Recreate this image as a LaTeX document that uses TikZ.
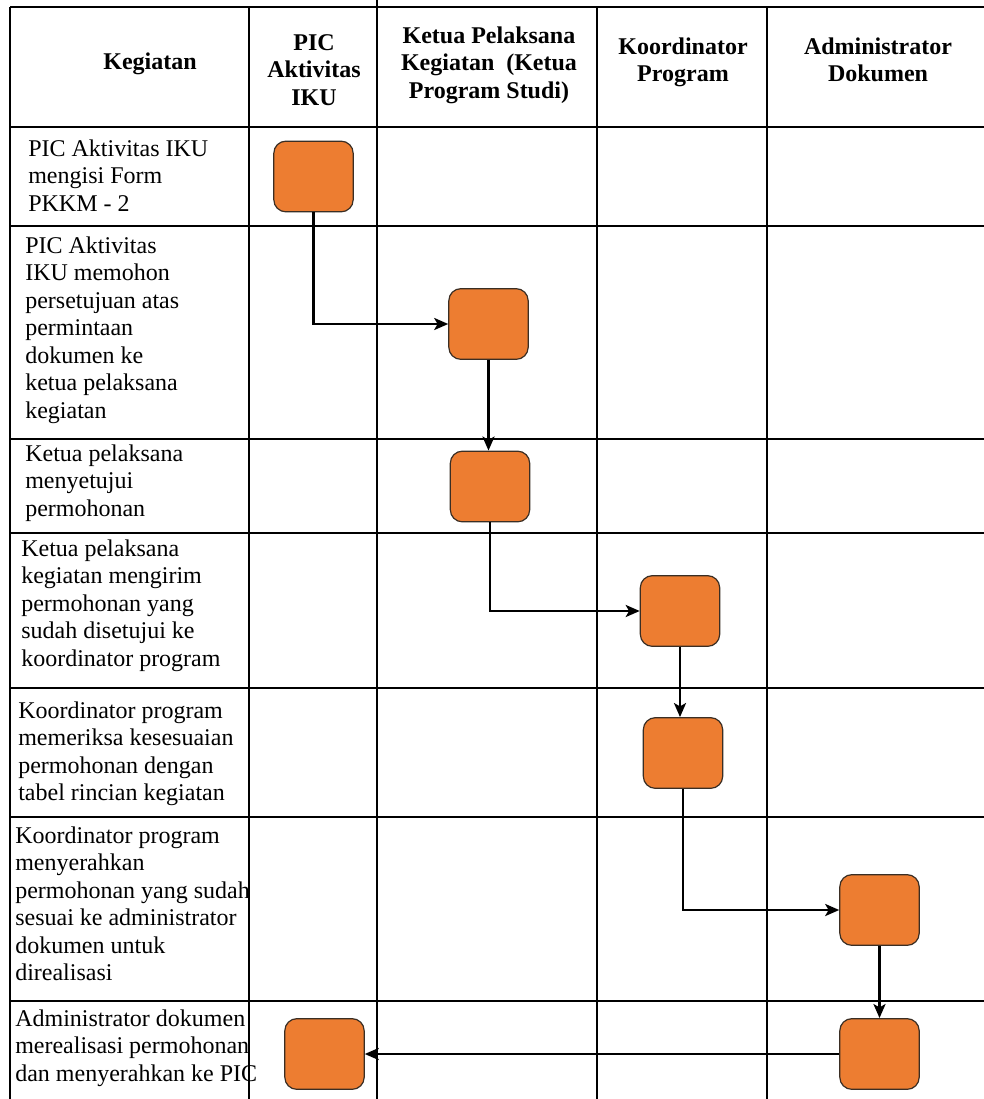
\documentclass[tikz,border=0pt]{standalone}
\usepackage{fontspec}
\setmainfont{Liberation Serif}
\usetikzlibrary{arrows.meta}
\definecolor{boxorange}{HTML}{ED7D31}
\definecolor{boxedge}{HTML}{3A2E24}
\tikzset{
  gridline/.style={line width=1.4pt, black},
  procbox/.style={draw=boxedge, fill=boxorange, rounded corners=9pt, line width=0.9pt,
    minimum width=59.5pt, minimum height=53pt, inner sep=0pt},
  flow/.style={line width=1.9pt, -{Stealth[length=10.5pt,width=9pt,inset=2.5pt]}},
  bodytext/.style={anchor=north west, inner sep=0pt, align=left, font=\fontsize{18}{20.6}\selectfont},
  headtext/.style={anchor=north, inner sep=0pt, align=center, font=\fontsize{18}{20.6}\selectfont\bfseries},
}
\begin{document}
\begin{tikzpicture}[x=0.75pt, y=-0.75pt]
\useasboundingbox (0,0) rectangle (984,1099);
\fill[white] (0,0) rectangle (984,1099);
% table grid
\foreach \yy in {7,127,226,439,533,688,817,1001} {\draw[gridline] (10,\yy) -- (984,\yy);}
\foreach \xx in {10,249,597,767} {\draw[gridline] (\xx,7) -- (\xx,1099);}
\draw[gridline] (377,0) -- (377,1099);
% header
\node[headtext] (h1) at (150,49.8) {\strut Kegiatan};
\node[headtext] (h2) at (314,30.8) {\strut PIC\\Aktivitas\\IKU};
\node[headtext] (h3) at (489,23.8) {\strut Ketua Pelaksana\\Kegiatan~ (Ketua\\Program Studi)};
\node[headtext] (h4) at (683,34.8) {\strut Koordinator\\Program};
\node[headtext] (h5) at (878,34.8) {\strut Administrator\\Dokumen};
% activity texts
\node[bodytext] (t1) at (28,136.8) {\strut PIC Aktivitas IKU\\mengisi Form\\PKKM - 2};
\node[bodytext] (t2) at (25,233.8) {\strut PIC Aktivitas\\IKU memohon\\persetujuan atas\\permintaan\\dokumen ke\\ketua pelaksana\\kegiatan};
\node[bodytext] (t3) at (25,441.8) {\strut Ketua pelaksana\\menyetujui\\permohonan};
\node[bodytext] (t4) at (21,536.8) {\strut Ketua pelaksana\\kegiatan mengirim\\permohonan yang\\sudah disetujui ke\\koordinator program};
\node[bodytext] (t5) at (18,698.8) {\strut Koordinator program\\memeriksa kesesuaian\\permohonan dengan\\tabel rincian kegiatan};
\node[bodytext] (t6) at (15,823.8) {\strut Koordinator program\\menyerahkan\\permohonan yang sudah\\sesuai ke administrator\\dokumen untuk\\direalisasi};
\node[bodytext] (t7) at (15,1006.8) {\strut Administrator dokumen\\merealisasi permohonan\\dan menyerahkan ke PIC};
% process boxes
\node[procbox] (b1) at (313.5,176.5) {};
\node[procbox] (b2) at (488.5,324) {};
\node[procbox] (b3) at (490,486.5) {};
\node[procbox] (b4) at (680,611) {};
\node[procbox] (b5) at (683,753) {};
\node[procbox] (b6) at (879.5,910) {};
\node[procbox] (b7) at (879.5,1054) {};
\node[procbox] (b8) at (324.5,1054) {};
% connectors
\draw[flow] (b1.south) |- (b2.west);
\draw[flow] (b2.south) -- (b2.south |- b3.north);
\draw[flow] (b3.south) |- (b4.west);
\draw[flow] (b4.south) -- (b4.south |- b5.north);
\draw[flow] (b5.south) |- (b6.west);
\draw[flow] (b6.south) -- (b7.north);
\draw[flow] (b7.west) -- (b8.east);
\end{tikzpicture}
\end{document}
